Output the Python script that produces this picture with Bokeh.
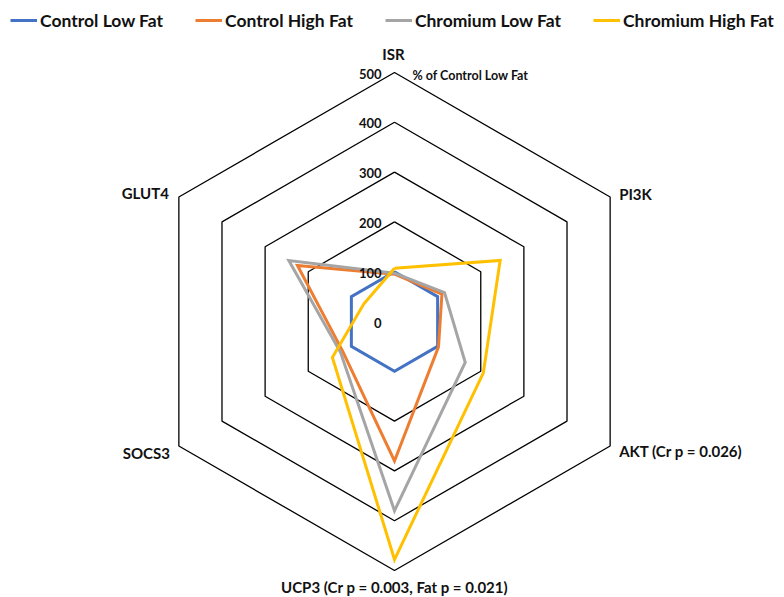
import numpy as np
from bokeh.plotting import figure
from bokeh.models import ColumnDataSource, Legend, LegendItem, Range1d
from bokeh.core.properties import value
from bokeh.embed import file_html
from bokeh.resources import INLINE

# ---- data ----
categories = ["ISR", "PI3K", "AKT (Cr p = 0.026)", "UCP3 (Cr p = 0.003, Fat p = 0.021)", "SOCS3", "GLUT4"]
control_low = [100, 100, 100, 100, 100, 100]
control_high = [95, 110, 102, 280, 120, 225]
chromium_low = [97, 116, 164, 380, 125, 245]
chromium_high = [107, 245, 206, 478, 144, 71]
series_names = ["Control Low Fat", "Control High Fat", "Chromium Low Fat", "Chromium High Fat"]
ticks = [0, 100, 200, 300, 400, 500]
unit_label = "% of Control Low Fat"

colors = ["#4472C4", "#ED7D31", "#A5A5A5", "#FFC000"]
FONT = "Lato"

W, H = 784, 597
cx, cy = 394, 321           # centre in figure pixels (from top-left)
s = 0.498                   # pixels per unit

p = figure(width=W, height=H, output_backend="svg", toolbar_location=None,
           x_range=Range1d(-cx / s, (W - cx) / s), y_range=Range1d(-(H - cy) / s, cy / s),
           min_border=0, outline_line_color=None)
p.axis.visible = False
p.grid.visible = False
p.background_fill_color = "white"

n = len(categories)
angles = np.deg2rad(90 - 60 * np.arange(n))

def xy(vals):
    v = np.asarray(vals, dtype=float)
    x = v * np.cos(angles)
    y = v * np.sin(angles)
    return list(x) + [x[0]], list(y) + [y[0]]

# grid hexagons
for t in ticks[1:]:
    gx, gy = xy([t] * n)
    p.line(gx, gy, line_color="black", line_width=1.3)

# series
renderers = []
for vals, col in zip([control_low, control_high, chromium_low, chromium_high], colors):
    sx, sy = xy(vals)
    r = p.line(sx, sy, line_color=col, line_width=3, line_join="miter")
    renderers.append(r)

# tick labels on the ISR axis
tsrc = ColumnDataSource(dict(x=[0] * len(ticks), y=ticks, t=[str(v) for v in ticks]))
p.text("x", "y", text="t", source=tsrc, text_align="right", text_baseline="middle",
       x_offset=-13, y_offset=1, text_font=value(FONT), text_font_style="bold",
       text_font_size="13px", text_color="#111111")
p.text(x=[0], y=[ticks[-1]], text=[unit_label], text_align="left", text_baseline="middle",
       x_offset=18, y_offset=3, text_font=value(FONT), text_font_style="bold",
       text_font_size="12.5px", text_color="#111111")

# category labels
R = ticks[-1]
lx = list(R * np.cos(angles))
ly = list(R * np.sin(angles))
aligns = ["center", "left", "left", "center", "right", "right"]
xoffs = [-1, 9, 9, 0, -9, -10]
yoffs = [-19, -3, 5, 16, 7, -4]
csrc = ColumnDataSource(dict(x=lx, y=ly, t=categories, a=aligns, xo=xoffs, yo=yoffs))
p.text("x", "y", text="t", source=csrc, text_align="a", text_baseline="middle",
       x_offset="xo", y_offset="yo", text_font=value(FONT), text_font_style="bold",
       text_font_size="15px", text_color="#111111")

legend = Legend(items=[LegendItem(label=nm, renderers=[r]) for nm, r in zip(series_names, renderers)],
                orientation="horizontal", location=(10, H - 31), padding=0, margin=0,
                spacing=32, glyph_width=27, glyph_height=22, label_standoff=3,
                label_text_font=FONT, label_text_font_style="bold", label_text_font_size="17.5px",
                label_text_color="#111111",
                border_line_color=None, background_fill_alpha=0)
p.add_layout(legend)

open("out.html", "w").write(file_html(p, INLINE))
